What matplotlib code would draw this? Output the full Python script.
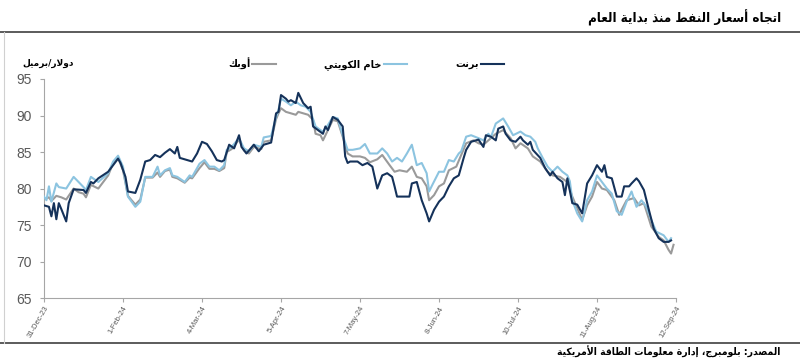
import datetime as dt
import matplotlib
matplotlib.use("Agg")
import matplotlib.pyplot as plt
from matplotlib.lines import Line2D

# ---- data (days since 31-Dec-2023, $/bbl) ----
brent_day = [0, 2, 3, 4, 5, 6, 7, 9, 10, 12, 16, 17, 19, 20, 22, 26, 28, 30, 31, 33,
             34, 37, 39, 41, 43, 45, 47, 49, 51, 53, 54, 55, 58, 60, 62, 64, 66, 68,
             70, 72, 73, 75, 77, 79, 80, 82, 85, 87, 89, 92, 94, 95, 96, 98, 99, 100,
             102, 103, 105, 107, 108, 109, 111, 113, 114, 115, 117, 119, 121, 122, 123,
             124, 127, 129, 131, 133, 135, 137, 139, 141, 142, 143, 148, 149, 151, 153,
             155, 156, 158, 160, 162, 164, 166, 168, 170, 171, 173, 176, 178, 179, 181,
             183, 184, 186, 187, 189, 191, 193, 194, 196, 197, 198, 201, 203, 205, 206,
             208, 210, 211, 212, 214, 216, 218, 220, 222, 224, 226, 227, 228, 230, 232,
             234, 235, 237, 238, 240, 241, 243, 245, 247, 249, 251, 253, 254]
brent = [77.7, 77.5, 76.2, 78.0, 75.8, 78.0, 77.2, 75.5, 78.0, 79.9, 79.8, 79.4, 80.9,
         80.7, 81.4, 82.3, 83.2, 84.1, 83.5, 81.6, 79.6, 79.4, 81.2, 83.7, 83.9, 84.6,
         84.3, 84.9, 85.4, 84.8, 85.7, 84.2, 83.9, 83.7, 84.8, 86.4, 86.1, 85.1, 83.9,
         83.7, 83.9, 86.0, 85.5, 87.3, 85.7, 84.8, 86.0, 85.1, 86.0, 86.3, 90.3, 90.5,
         92.8, 92.3, 91.9, 92.1, 91.7, 93.1, 91.7, 91.0, 91.2, 88.5, 88.0, 87.5, 88.5,
         88.0, 89.8, 89.4, 88.5, 84.4, 83.5, 83.7, 83.7, 83.2, 83.5, 83.0, 80.0, 81.8,
         82.1, 81.6, 80.3, 78.9, 78.9, 80.7, 80.9, 78.4, 76.6, 75.5, 77.1, 78.2, 78.9,
         80.3, 81.4, 81.8, 84.2, 85.3, 86.4, 86.7, 85.7, 87.3, 87.1, 86.6, 88.2, 88.5,
         87.5, 86.6, 86.4, 87.1, 86.6, 86.0, 86.4, 85.3, 84.2, 82.8, 81.8, 82.3, 81.4,
         80.9, 79.1, 81.4, 78.0, 77.8, 76.6, 80.7, 81.8, 83.2, 82.3, 83.2, 81.6, 81.4,
         78.9, 78.9, 80.3, 80.3, 80.7, 81.4, 81.0, 79.8, 77.1, 74.5, 73.2, 72.7, 72.7,
         72.9]

kuwait_day = [0, 1, 2, 3, 5, 6, 9, 12, 14, 16, 17, 19, 22, 26, 28, 30, 32, 34, 37, 39,
              41, 44, 46, 47, 49, 51, 52, 54, 57, 59, 60, 63, 65, 67, 69, 71, 73, 74,
              76, 79, 81, 83, 85, 88, 89, 92, 94, 95, 96, 98, 100, 102, 104, 106, 108,
              110, 112, 113, 115, 117, 119, 121, 123, 125, 128, 130, 132, 135, 137, 139,
              141, 143, 145, 147, 149, 151, 153, 155, 156, 157, 160, 162, 164, 166, 168,
              169, 171, 173, 176, 178, 180, 181, 183, 186, 188, 190, 193, 195, 197, 199,
              200, 202, 204, 206, 208, 210, 212, 213, 214, 216, 218, 220, 222, 224, 226,
              228, 230, 232, 234, 236, 238, 240, 242, 244, 246, 248, 251, 253, 254]
kuwait = [78.9, 78.4, 80.3, 78.2, 80.7, 80.2, 80.0, 81.6, 80.9, 80.2, 79.8, 81.6, 80.9,
          82.1, 83.7, 84.5, 83.0, 78.9, 77.5, 78.2, 81.6, 81.6, 83.0, 81.8, 82.5, 82.8,
          81.8, 81.6, 80.9, 81.8, 81.6, 83.4, 83.9, 83.0, 83.0, 82.5, 83.2, 85.3, 85.7,
          86.9, 85.5, 85.1, 86.0, 85.7, 87.0, 87.2, 89.8, 90.8, 92.3, 91.9, 91.4, 91.9,
          91.4, 91.2, 90.5, 88.5, 88.0, 87.8, 88.7, 89.8, 89.6, 87.3, 85.3, 85.3, 85.5,
          86.1, 84.8, 84.8, 85.5, 84.8, 83.7, 84.2, 83.7, 84.8, 86.0, 83.2, 83.5, 82.1,
          79.6, 80.3, 82.3, 82.3, 83.9, 83.7, 84.8, 85.1, 87.1, 87.3, 86.9, 86.6, 87.5,
          87.0, 88.9, 89.6, 88.5, 87.3, 87.8, 87.3, 87.1, 86.4, 85.5, 84.2, 83.0, 82.3,
          83.0, 82.3, 81.8, 81.0, 78.4, 76.6, 75.5, 78.4, 79.6, 81.8, 80.9, 80.0, 79.3,
          76.9, 76.4, 78.2, 79.6, 77.5, 78.4, 77.5, 75.7, 74.1, 73.6, 72.7, 73.2]

opec_day = [0, 2, 3, 5, 7, 9, 12, 14, 16, 17, 19, 22, 26, 28, 30, 32, 34, 37, 39, 41,
            44, 46, 47, 49, 51, 52, 54, 57, 59, 60, 63, 65, 67, 69, 71, 73, 74, 76, 79,
            81, 83, 85, 88, 89, 92, 94, 95, 96, 98, 100, 102, 103, 105, 107, 109, 110,
            112, 113, 115, 117, 119, 121, 123, 125, 128, 130, 132, 135, 137, 140, 142,
            144, 147, 149, 151, 153, 155, 156, 158, 160, 162, 164, 167, 169, 171, 174,
            176, 178, 183, 186, 189, 191, 193, 196, 198, 201, 204, 206, 209, 212, 214,
            216, 218, 220, 222, 224, 226, 228, 231, 233, 234, 236, 239, 241, 243, 246,
            249, 251, 253, 254, 255]
opec = [78.5, 78.8, 78.3, 79.0, 78.8, 78.5, 80.0, 79.5, 79.3, 78.8, 80.5, 80.0, 81.8,
        83.5, 84.2, 82.5, 79.0, 77.8, 78.5, 81.5, 81.5, 82.2, 81.6, 82.4, 82.6, 81.6,
        81.4, 80.8, 81.5, 81.4, 82.8, 83.6, 82.7, 82.7, 82.4, 82.8, 85.0, 85.4, 86.7,
        85.2, 84.8, 85.7, 85.4, 86.4, 86.6, 89.5, 90.3, 91.0, 90.5, 90.3, 90.1, 90.5,
        90.3, 90.1, 89.4, 87.5, 87.3, 86.6, 88.0, 89.4, 89.2, 87.1, 84.8, 84.4, 84.4,
        84.2, 83.6, 84.0, 84.6, 83.2, 82.3, 82.5, 82.3, 83.0, 81.6, 81.4, 80.3, 78.4,
        79.1, 80.3, 80.7, 82.5, 83.0, 84.6, 86.2, 86.6, 86.2, 86.0, 87.5, 88.0, 86.9,
        85.5, 86.2, 85.5, 84.4, 83.7, 82.3, 81.8, 81.6, 80.9, 78.9, 77.3, 75.7, 77.7,
        78.9, 80.9, 80.0, 79.8, 78.4, 76.4, 77.1, 78.4, 78.7, 77.7, 78.0, 74.8, 73.4,
        72.9, 71.6, 71.1, 72.3]

tick_labels = ["31-Dec-23", "1-Feb-24", "4-Mar-24", "5-Apr-24", "7-May-24",
               "8-Jun-24", "10-Jul-24", "11-Aug-24", "12-Sep-24"]

title_text = "اتجاه أسعار النفط منذ بداية العام"
unit_text = "دولار/برميل"
source_text = "المصدر: بلومبرج، إدارة معلومات الطاقة الأمريكية"
name_brent = "برنت"
name_kuwait = "خام الكويتي"
name_opec = "أوبك"

# ---- minimal arabic shaping (matplotlib draws letters unjoined, LTR) ----
FORMS = {
    "ا": (0xFE8D, 0xFE8E, None, None), "أ": (0xFE83, 0xFE84, None, None),
    "إ": (0xFE87, 0xFE88, None, None), "ة": (0xFE93, 0xFE94, None, None),
    "د": (0xFEA9, 0xFEAA, None, None), "ذ": (0xFEAB, 0xFEAC, None, None),
    "ر": (0xFEAD, 0xFEAE, None, None), "و": (0xFEED, 0xFEEE, None, None),
    "ب": (0xFE8F, 0xFE90, 0xFE91, 0xFE92), "ت": (0xFE95, 0xFE96, 0xFE97, 0xFE98),
    "ج": (0xFE9D, 0xFE9E, 0xFE9F, 0xFEA0), "خ": (0xFEA5, 0xFEA6, 0xFEA7, 0xFEA8),
    "س": (0xFEB1, 0xFEB2, 0xFEB3, 0xFEB4), "ص": (0xFEB9, 0xFEBA, 0xFEBB, 0xFEBC),
    "ط": (0xFEC1, 0xFEC2, 0xFEC3, 0xFEC4), "ع": (0xFEC9, 0xFECA, 0xFECB, 0xFECC),
    "ف": (0xFED1, 0xFED2, 0xFED3, 0xFED4), "ق": (0xFED5, 0xFED6, 0xFED7, 0xFED8),
    "ك": (0xFED9, 0xFEDA, 0xFEDB, 0xFEDC), "ل": (0xFEDD, 0xFEDE, 0xFEDF, 0xFEE0),
    "م": (0xFEE1, 0xFEE2, 0xFEE3, 0xFEE4), "ن": (0xFEE5, 0xFEE6, 0xFEE7, 0xFEE8),
    "ه": (0xFEE9, 0xFEEA, 0xFEEB, 0xFEEC), "ي": (0xFEF1, 0xFEF2, 0xFEF3, 0xFEF4),
}
LAM_ALEF = {"ا": (0xFEFB, 0xFEFC), "أ": (0xFEF7, 0xFEF8), "إ": (0xFEF9, 0xFEFA)}


def joins_next(ch):
    return ch in FORMS and FORMS[ch][2] is not None


def shape(text):
    # merge lam + alef into ligature tokens first
    tokens = []
    i = 0
    while i < len(text):
        if text[i] == "ل" and i + 1 < len(text) and text[i + 1] in LAM_ALEF:
            tokens.append(("LA", text[i + 1]))
            i += 2
        else:
            tokens.append(("C", text[i]))
            i += 1
    out = []
    for k, (kind, ch) in enumerate(tokens):
        prev = tokens[k - 1] if k > 0 else None
        nxt = tokens[k + 1] if k + 1 < len(tokens) else None
        p = prev is not None and prev[0] == "C" and joins_next(prev[1])
        if kind == "LA":
            iso, fin = LAM_ALEF[ch]
            out.append(chr(fin if p else iso))
            continue
        if ch not in FORMS:
            out.append(ch)
            continue
        n = joins_next(ch) and nxt is not None and (nxt[0] == "LA" or nxt[1] in FORMS)
        iso, fin, ini, med = FORMS[ch]
        if p and n:
            code = med
        elif p:
            code = fin
        elif n:
            code = ini
        else:
            code = iso
        out.append(chr(code))
    return "".join(out)[::-1]


def to_dates(days):
    start = dt.datetime(2023, 12, 31)
    return [start + dt.timedelta(days=d) for d in days]


fig = plt.figure(figsize=(8, 3.64), dpi=100)
ax = fig.add_axes([0.055, 0.181, 0.79, 0.602])

c_brent = "#15325a"
c_kuwait = "#8cc4e0"
c_opec = "#9a9a9a"
lw = 1.5

ax.plot(to_dates(opec_day), opec, color=c_opec, lw=lw, zorder=2)
ax.plot(to_dates(kuwait_day), kuwait, color=c_kuwait, lw=lw, zorder=3)
ax.plot(to_dates(brent_day), brent, color=c_brent, lw=lw, zorder=4)

tick_dates = [dt.datetime.strptime(t, "%d-%b-%y") for t in tick_labels]
ax.set_xlim(tick_dates[0], tick_dates[-1])
ax.set_xticks(tick_dates)
ax.set_xticklabels(tick_labels, rotation=60, ha="right", rotation_mode="anchor",
                   fontsize=5.5, color="#595959", family="Liberation Sans")
ax.set_ylim(65, 95)
ax.set_yticks(range(65, 96, 5))
ax.tick_params(axis="y", labelsize=10, colors="#595959", length=3, color="#a6a6a6", pad=6)
ax.tick_params(axis="x", length=3, color="#a6a6a6", pad=2)
for lab in ax.get_yticklabels():
    lab.set_family("Liberation Sans")

for side in ["top", "right"]:
    ax.spines[side].set_visible(False)
for side in ["left", "bottom"]:
    ax.spines[side].set_color("#a6a6a6")
    ax.spines[side].set_linewidth(0.8)

handles = [Line2D([], [], color=c_opec, lw=lw),
           Line2D([], [], color=c_kuwait, lw=lw),
           Line2D([], [], color=c_brent, lw=lw)]
labels = [shape(name_opec), shape(name_kuwait), shape(name_brent)]
ax.legend(handles, labels, loc="lower center", bbox_to_anchor=(0.51, 1.0), ncol=3,
          frameon=False, markerfirst=False, handlelength=2.4,
          columnspacing=5, handletextpad=0.2,
          prop={"family": "DejaVu Sans", "weight": "bold", "size": 7})

fig.text(0.976, 0.95, shape(title_text), ha="right", va="center", fontsize=9.5,
         fontweight="bold", family="DejaVu Sans", fontstretch="condensed")
fig.text(0.028, 0.826, shape(unit_text), ha="left", va="center", fontsize=6.5,
         fontweight="bold", family="DejaVu Sans")
fig.text(0.976, 0.033, shape(source_text), ha="right", va="center", fontsize=7.5,
         fontweight="bold", family="DejaVu Sans", fontstretch="condensed")

fig.add_artist(Line2D([0.0, 1.0], [0.912, 0.912], color="#404040", lw=1.2))
fig.add_artist(Line2D([0.0, 1.0], [0.058, 0.058], color="#404040", lw=1.2))
fig.add_artist(Line2D([0.005, 0.005], [0.058, 0.912], color="#d0d0d0", lw=0.8))

fig.savefig("out.png", dpi=100)
